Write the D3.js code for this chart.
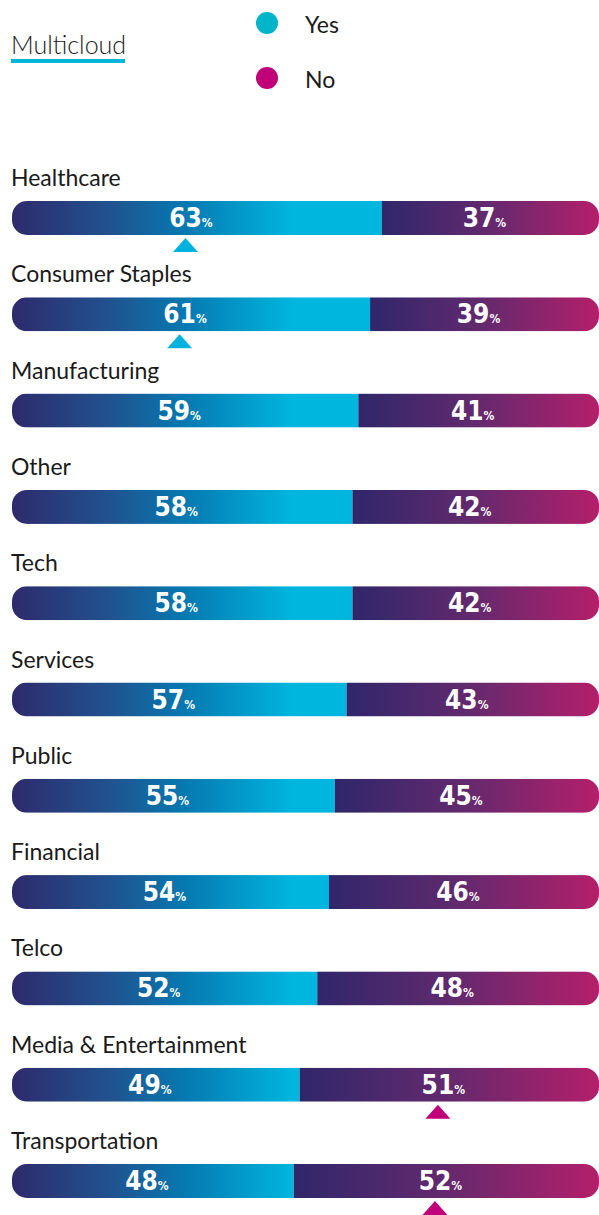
<!DOCTYPE html>
<html>
<head>
<meta charset="utf-8">
<script src="https://cdn.jsdelivr.net/npm/d3@7"></script>
<style>
  body { margin: 0; background: #fff; }
  svg { display: block; }
</style>
</head>
<body>
<svg id="chart" width="599" height="1215"></svg>
<script>
// Multicloud adoption by industry (share answering Yes / No)
const title = "Multicloud";
const legendLabels = ["Yes", "No"];
const categories = [
  "Healthcare", "Consumer Staples", "Manufacturing", "Other", "Tech",
  "Services", "Public", "Financial", "Telco", "Media & Entertainment", "Transportation"
];
const yesValues = [63, 61, 59, 58, 58, 57, 55, 54, 52, 49, 48];
const noValues  = [37, 39, 41, 42, 42, 43, 45, 46, 48, 51, 52];
// segment that carries a pointer under its value
const markers = ["yes", "yes", null, null, null, null, null, null, null, "no", "no"];

const rows = categories.map((c, i) => ({
  cat: c, yes: yesValues[i], no: noValues[i], marker: markers[i], i
}));

const svg = d3.select("#chart");
const labelFont = "Lato, 'Open Sans', sans-serif";
const numFont = "'DejaVu Sans Condensed', 'DejaVu Sans', sans-serif";

const x = d3.scaleLinear().domain([0, 100]).range([12, 599]);
const y = d3.scaleBand().domain(categories).range([201, 201 + 96.3 * categories.length]);
const color = d3.scaleOrdinal().domain(legendLabels).range(["#00b4ca", "#bf0078"]);
const pointerColor = { yes: "#00b2de", no: "#bf0078" };
const barH = 34, radius = 15;

const defs = svg.append("defs");

// Yes fill: fixed ramp across the left part of the track, cyan beyond
const yesGrad = defs.append("linearGradient")
  .attr("id", "yesGrad")
  .attr("gradientUnits", "userSpaceOnUse")
  .attr("x1", x(0)).attr("x2", x(47.5)).attr("y1", 0).attr("y2", 0);
[["0%", "#2e2a6c"], ["35%", "#21528f"], ["62%", "#0679b1"], ["100%", "#00b5de"]]
  .forEach(([o, c]) => yesGrad.append("stop").attr("offset", o).attr("stop-color", c));

// No fill: navy to magenta across its own segment
const noGrad = defs.append("linearGradient")
  .attr("id", "noGrad").attr("x1", 0).attr("x2", 1).attr("y1", 0).attr("y2", 0);
[["0%", "#2f276a"], ["50%", "#64296e"], ["100%", "#b41f6a"]]
  .forEach(([o, c]) => noGrad.append("stop").attr("offset", o).attr("stop-color", c));

rows.forEach(d => {
  defs.append("clipPath").attr("id", "clip" + d.i)
    .append("rect")
    .attr("x", x(0)).attr("y", y(d.cat))
    .attr("width", x(100) - x(0)).attr("height", barH)
    .attr("rx", radius).attr("ry", radius);
});

// Title with underline
svg.append("text")
  .attr("x", 11).attr("y", 54)
  .attr("font-family", labelFont).attr("font-weight", 300)
  .attr("font-size", 25).attr("fill", "#1a1a1a")
  .text(title);
svg.append("rect")
  .attr("x", 11).attr("y", 59).attr("width", 114).attr("height", 4)
  .attr("fill", "#00b4dc");

// Legend
const legend = svg.append("g").selectAll("g").data(legendLabels).join("g")
  .attr("transform", (d, i) => `translate(267, ${23 + i * 55})`);
legend.append("circle").attr("r", 11).attr("fill", d => color(d));
legend.append("text")
  .attr("x", 38).attr("y", 10)
  .attr("font-family", labelFont).attr("font-size", 23).attr("fill", "#1a1a1a")
  .text(d => d);

// Rows
const row = svg.append("g").selectAll("g").data(rows).join("g");

row.append("text")
  .attr("x", 11).attr("y", d => y(d.cat) - 15)
  .attr("font-family", labelFont).attr("font-size", 23).attr("fill", "#1a1a1a")
  .text(d => d.cat);

const bar = row.append("g").attr("clip-path", d => `url(#clip${d.i})`);
bar.append("rect")
  .attr("x", x(0)).attr("y", d => y(d.cat))
  .attr("width", d => x(d.yes) - x(0)).attr("height", barH)
  .attr("fill", "url(#yesGrad)");
bar.append("rect")
  .attr("x", d => x(d.yes)).attr("y", d => y(d.cat))
  .attr("width", d => x(100) - x(d.yes)).attr("height", barH)
  .attr("fill", "url(#noGrad)");

// Value labels and pointers
function valueLabel(sel, key, x0, x1) {
  sel.each(function (d) {
    const g = d3.select(this);
    const cx = (x(x0(d)) + x(x1(d))) / 2 - 6;
    const t = g.append("text")
      .attr("x", cx).attr("y", y(d.cat) + 26)
      .attr("text-anchor", "middle")
      .attr("font-family", numFont).attr("font-weight", 700)
      .attr("fill", "#fff");
    const num = t.append("tspan").attr("font-size", 26).text(d[key]);
    t.append("tspan").attr("font-size", 12).text("%");
    if (d.marker === key) {
      const box = t.node().getBBox();
      const w = num.node().getComputedTextLength();
      const mx = box.x + w / 2;
      const top = y(d.cat) + barH + 3;
      g.append("path")
        .attr("d", `M${mx - 12.5},${top + 14}L${mx},${top}L${mx + 12.5},${top + 14}Z`)
        .attr("fill", pointerColor[key]);
    }
  });
}
valueLabel(row, "yes", () => 0, d => d.yes);
valueLabel(row, "no", d => d.yes, () => 100);
</script>
</body>
</html>
